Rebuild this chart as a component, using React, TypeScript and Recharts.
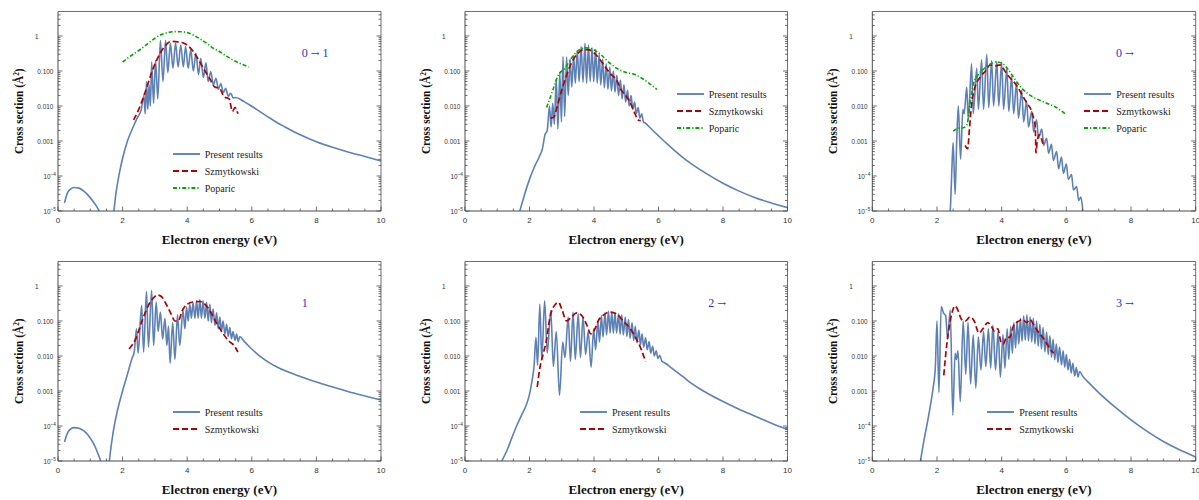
import React from 'react';
import { LineChart, Line, XAxis, YAxis, Legend } from 'recharts';

type Pt = [number, number];

// ---- data: [energy (eV), cross section (Å²)] ----

const present1: Pt[] = [
  [0.2, 1.7e-5], [0.3, 3.4e-5], [0.4, 4.3e-5], [0.5, 4.7e-5], [0.65, 4.5e-5], [0.8, 3.7e-5], [0.95, 2.7e-5],
  [1.1, 1.8e-5], [1.25, 1.1e-5], [1.33, 7e-6], [1.42, 2e-6], [1.5, 5e-7], [1.62, 8e-7], [1.68, 4e-6],
  [1.73, 1e-5], [1.8, 3.5e-5], [1.9, 1.2e-4], [2.0, 3.2e-4], [2.15, 1e-3], [2.3, 2.2e-3], [2.45, 4.5e-3],
  [2.58, 8e-3], [2.66, 0.02], [2.7, 0.006], [2.74, 0.05], [2.78, 0.008], [2.82, 0.04], [2.86, 0.01],
  [2.9, 0.18], [2.96, 0.012], [3.02, 0.2], [3.09, 0.016], [3.17, 0.74], [3.25, 0.05], [3.33, 0.74],
  [3.4, 0.09], [3.48, 0.62], [3.56, 0.12], [3.64, 0.62], [3.72, 0.13], [3.8, 0.55], [3.88, 0.13],
  [3.95, 0.5], [4.03, 0.12], [4.11, 0.4], [4.19, 0.1], [4.27, 0.32], [4.35, 0.08], [4.42, 0.23],
  [4.5, 0.065], [4.58, 0.17], [4.65, 0.05], [4.73, 0.095], [4.81, 0.04], [4.89, 0.062], [4.97, 0.03],
  [5.04, 0.044], [5.12, 0.024], [5.19, 0.032], [5.27, 0.019], [5.35, 0.023], [5.42, 0.017],
  [5.5, 0.0175], [5.75, 0.0135], [6.0, 0.0098], [6.25, 0.0069], [6.5, 0.0049], [6.75, 0.0035],
  [7.0, 0.0026], [7.5, 0.0015], [8.0, 9.5e-4], [8.5, 6.6e-4], [9.0, 4.8e-4], [9.5, 3.6e-4], [10.0, 2.7e-4],
];
const szmyt1: Pt[] = [
  [2.34, 0.004], [2.5, 0.008], [2.7, 0.025], [2.9, 0.09], [3.1, 0.25], [3.3, 0.5], [3.5, 0.7], [3.7, 0.68],
  [3.9, 0.62], [4.1, 0.45], [4.3, 0.25], [4.5, 0.12], [4.7, 0.06], [4.85, 0.035], [5.0, 0.032],
  [5.15, 0.018], [5.3, 0.016], [5.4, 0.007], [5.48, 0.009], [5.57, 0.006],
];
const poparic1: Pt[] = [
  [2.0, 0.18], [2.2, 0.25], [2.4, 0.33], [2.6, 0.45], [2.8, 0.62], [3.0, 0.86], [3.2, 1.1], [3.4, 1.25],
  [3.6, 1.33], [3.8, 1.32], [4.0, 1.25], [4.2, 1.05], [4.4, 0.82], [4.6, 0.62], [4.8, 0.45], [5.0, 0.36],
  [5.2, 0.27], [5.4, 0.21], [5.6, 0.17], [5.9, 0.13],
];

const present2: Pt[] = [
  [1.7, 1e-5], [1.85, 3e-5], [2.0, 8e-5], [2.15, 1.8e-4], [2.3, 3.5e-4], [2.4, 6e-4], [2.48, 0.0015],
  [2.55, 0.002], [2.62, 0.01], [2.67, 0.0025], [2.72, 0.012], [2.77, 0.003], [2.83, 0.06], [2.88, 0.0022],
  [2.94, 0.09], [2.99, 0.0035], [3.04, 0.26], [3.09, 0.005], [3.15, 0.25], [3.2, 0.02], [3.26, 0.22],
  [3.31, 0.035], [3.37, 0.28], [3.42, 0.045], [3.48, 0.38], [3.54, 0.05], [3.6, 0.5], [3.66, 0.048],
  [3.72, 0.62], [3.77, 0.045], [3.83, 0.55], [3.88, 0.05], [3.94, 0.45], [3.99, 0.05], [4.05, 0.4],
  [4.1, 0.045], [4.16, 0.3], [4.21, 0.04], [4.27, 0.22], [4.32, 0.033], [4.38, 0.16], [4.43, 0.03],
  [4.49, 0.13], [4.54, 0.027], [4.6, 0.1], [4.65, 0.025], [4.71, 0.075], [4.76, 0.02], [4.82, 0.055],
  [4.87, 0.016], [4.93, 0.04], [4.98, 0.013], [5.04, 0.028], [5.09, 0.01], [5.15, 0.02], [5.2, 0.008],
  [5.26, 0.013], [5.31, 0.006], [5.37, 0.009], [5.42, 0.0045], [5.48, 0.006], [5.53, 0.0035],
  [5.6, 0.0032], [5.7, 0.0026], [5.85, 0.0019], [6.0, 0.0014], [6.25, 8.5e-4], [6.5, 5.3e-4],
  [6.75, 3.4e-4], [7.0, 2.3e-4], [7.5, 1.15e-4], [8.0, 6.2e-5], [8.5, 3.7e-5], [9.0, 2.4e-5],
  [9.5, 1.7e-5], [10.0, 1.25e-5],
];
const szmyt2: Pt[] = [
  [2.65, 0.0045], [2.75, 0.0048], [2.85, 0.009], [2.95, 0.02], [3.1, 0.055], [3.3, 0.17], [3.5, 0.32],
  [3.7, 0.41], [3.85, 0.4], [4.05, 0.3], [4.3, 0.15], [4.5, 0.085], [4.7, 0.055], [4.85, 0.028],
  [5.0, 0.019], [5.15, 0.011], [5.27, 0.006], [5.37, 0.004], [5.45, 0.0038],
];
const poparic2: Pt[] = [
  [2.53, 0.009], [2.69, 0.023], [2.89, 0.075], [3.1, 0.12], [3.31, 0.24], [3.51, 0.38], [3.72, 0.46],
  [3.95, 0.42], [4.2, 0.3], [4.45, 0.18], [4.7, 0.12], [5.0, 0.09], [5.25, 0.08], [5.45, 0.065],
  [5.7, 0.045], [5.95, 0.03],
];

const present3: Pt[] = [
  [2.38, 5e-6], [2.42, 1.5e-5], [2.46, 1.5e-4], [2.5, 9e-4], [2.56, 3e-5], [2.61, 0.001], [2.66, 0.01],
  [2.73, 3e-4], [2.8, 0.008], [2.84, 0.006], [2.92, 0.035], [2.97, 0.004], [3.07, 0.16], [3.12, 0.006],
  [3.23, 0.12], [3.28, 0.008], [3.38, 0.21], [3.44, 0.008], [3.54, 0.3], [3.6, 0.009], [3.69, 0.2],
  [3.75, 0.01], [3.85, 0.19], [3.91, 0.01], [4.0, 0.18], [4.06, 0.008], [4.16, 0.12], [4.22, 0.007],
  [4.31, 0.07], [4.37, 0.006], [4.46, 0.045], [4.52, 0.0045], [4.62, 0.028], [4.68, 0.0035],
  [4.77, 0.014], [4.83, 0.0025], [4.93, 0.007], [4.99, 0.0018], [5.08, 0.004], [5.14, 0.0012],
  [5.24, 0.0022], [5.3, 7.5e-4], [5.39, 0.0012], [5.45, 4.5e-4], [5.54, 8e-4], [5.6, 2.8e-4],
  [5.7, 5e-4], [5.76, 1.6e-4], [5.85, 3.5e-4], [5.91, 1.2e-4], [6.0, 2.2e-4], [6.06, 8e-5],
  [6.16, 1.1e-4], [6.22, 4e-5], [6.32, 5e-5], [6.38, 2e-5], [6.45, 2.5e-5], [6.52, 8e-6], [6.6, 1e-6],
];
const szmyt3: Pt[] = [
  [2.87, 7.5e-4], [2.95, 6e-4], [3.0, 0.002], [3.07, 0.011], [3.17, 0.033], [3.33, 0.065], [3.5, 0.1],
  [3.65, 0.15], [3.8, 0.14], [3.95, 0.15], [4.1, 0.1], [4.25, 0.065], [4.45, 0.04], [4.62, 0.022],
  [4.78, 0.012], [4.93, 0.007], [5.0, 0.004], [5.04, 0.0025], [5.06, 4.6e-4], [5.1, 0.001],
  [5.16, 0.0015], [5.29, 7.5e-4],
];
const poparic3: Pt[] = [
  [2.5, 0.0019], [2.65, 0.0023], [2.81, 0.0024], [2.92, 0.0028], [3.02, 0.011], [3.12, 0.04],
  [3.28, 0.08], [3.43, 0.11], [3.64, 0.155], [3.79, 0.18], [4.0, 0.17], [4.2, 0.11], [4.4, 0.06],
  [4.6, 0.034], [4.82, 0.022], [5.08, 0.016], [5.39, 0.012], [5.65, 0.0095], [5.96, 0.006],
];

const present4: Pt[] = [
  [0.2, 3.5e-5], [0.3, 6.5e-5], [0.4, 8.3e-5], [0.5, 9e-5], [0.65, 8.6e-5], [0.8, 7.2e-5], [0.95, 5.2e-5],
  [1.1, 3.2e-5], [1.25, 1.5e-5], [1.33, 9e-6], [1.42, 2e-6], [1.5, 2e-6], [1.56, 5e-6], [1.6, 1.2e-5],
  [1.7, 6e-5], [1.85, 3e-4], [2.0, 1e-3], [2.15, 0.003], [2.3, 0.009], [2.36, 0.013], [2.43, 0.06],
  [2.48, 0.012], [2.59, 0.28], [2.65, 0.013], [2.74, 0.7], [2.8, 0.018], [2.9, 0.75], [2.96, 0.02],
  [3.04, 0.35], [3.1, 0.05], [3.17, 0.18], [3.24, 0.03], [3.31, 0.12], [3.37, 0.02], [3.42, 0.07],
  [3.47, 0.0062], [3.55, 0.09], [3.62, 0.008], [3.7, 0.15], [3.77, 0.02], [3.87, 0.2], [3.93, 0.06],
  [3.98, 0.25], [4.03, 0.1], [4.08, 0.3], [4.13, 0.12], [4.18, 0.33], [4.24, 0.12], [4.29, 0.38],
  [4.34, 0.12], [4.39, 0.4], [4.44, 0.12], [4.49, 0.38], [4.55, 0.12], [4.6, 0.34], [4.65, 0.1],
  [4.7, 0.3], [4.75, 0.09], [4.8, 0.22], [4.86, 0.075], [4.91, 0.17], [4.96, 0.06], [5.01, 0.13],
  [5.06, 0.05], [5.11, 0.1], [5.17, 0.042], [5.22, 0.08], [5.27, 0.036], [5.32, 0.065], [5.37, 0.031],
  [5.42, 0.05], [5.48, 0.028], [5.53, 0.042], [5.58, 0.026], [5.63, 0.036], [5.75, 0.027],
  [5.9, 0.0195], [6.0, 0.0158], [6.25, 0.0099], [6.5, 0.0068], [6.75, 0.005], [7.0, 0.0039],
  [7.5, 0.0026], [8.0, 0.0018], [8.5, 0.0013], [9.0, 9.5e-4], [9.5, 7.2e-4], [10.0, 5.5e-4],
];
const szmyt4: Pt[] = [
  [2.2, 0.016], [2.4, 0.03], [2.6, 0.1], [2.8, 0.28], [2.95, 0.45], [3.08, 0.55], [3.2, 0.5], [3.35, 0.3],
  [3.5, 0.16], [3.62, 0.1], [3.72, 0.1], [3.85, 0.2], [4.0, 0.3], [4.2, 0.35], [4.4, 0.36], [4.55, 0.3],
  [4.7, 0.2], [4.9, 0.09], [5.1, 0.045], [5.3, 0.026], [5.45, 0.02], [5.57, 0.013],
];

const present5: Pt[] = [
  [1.14, 1e-5], [1.3, 2e-5], [1.45, 4.5e-5], [1.6, 1e-4], [1.75, 2e-4], [1.9, 4e-4], [2.0, 8e-4],
  [2.08, 0.002], [2.14, 0.005], [2.2, 0.034], [2.25, 0.0055], [2.32, 0.3], [2.38, 0.008], [2.47, 0.38],
  [2.55, 0.012], [2.66, 0.2], [2.74, 0.005], [2.83, 0.05], [2.93, 7.5e-4], [3.03, 0.025], [3.1, 0.009],
  [3.2, 0.13], [3.27, 0.007], [3.35, 0.18], [3.42, 0.008], [3.51, 0.16], [3.58, 0.009], [3.66, 0.13],
  [3.74, 0.011], [3.82, 0.05], [3.91, 0.0048], [3.99, 0.06], [4.05, 0.015], [4.12, 0.1], [4.17, 0.025],
  [4.23, 0.14], [4.28, 0.035], [4.34, 0.17], [4.39, 0.04], [4.45, 0.19], [4.5, 0.045], [4.55, 0.18],
  [4.6, 0.045], [4.65, 0.17], [4.7, 0.045], [4.76, 0.16], [4.81, 0.042], [4.86, 0.15], [4.91, 0.04],
  [4.97, 0.13], [5.02, 0.036], [5.07, 0.11], [5.12, 0.032], [5.18, 0.09], [5.23, 0.028], [5.28, 0.07],
  [5.33, 0.024], [5.39, 0.055], [5.44, 0.021], [5.49, 0.043], [5.54, 0.018], [5.6, 0.033], [5.65, 0.015],
  [5.71, 0.026], [5.76, 0.012], [5.82, 0.019], [5.87, 0.01], [5.93, 0.014], [5.98, 0.0085],
  [6.04, 0.0105], [6.1, 0.0072], [6.2, 0.0063], [6.35, 0.005], [6.5, 0.0039], [6.75, 0.0026],
  [7.0, 0.0017], [7.25, 0.0012], [7.5, 8.8e-4], [8.0, 5e-4], [8.5, 3e-4], [9.0, 1.9e-4], [9.5, 1.2e-4],
  [10.0, 8e-5],
];
const szmyt5: Pt[] = [
  [2.24, 0.0013], [2.32, 0.0045], [2.42, 0.011], [2.53, 0.03], [2.63, 0.12], [2.74, 0.25], [2.9, 0.34],
  [3.0, 0.22], [3.15, 0.1], [3.3, 0.13], [3.46, 0.17], [3.6, 0.15], [3.77, 0.08], [3.9, 0.043],
  [4.03, 0.06], [4.13, 0.1], [4.3, 0.15], [4.49, 0.18], [4.7, 0.16], [4.9, 0.1], [5.1, 0.065],
  [5.3, 0.032], [5.47, 0.015], [5.6, 0.0068],
];

const present6: Pt[] = [
  [1.49, 1e-5], [1.6, 4e-5], [1.7, 1.2e-4], [1.8, 4e-4], [1.88, 0.0012], [1.95, 0.005], [2.0, 0.1],
  [2.06, 9e-4], [2.13, 0.26], [2.2, 0.17], [2.27, 0.14], [2.33, 0.03], [2.41, 0.21], [2.49, 2e-4],
  [2.56, 0.012], [2.6, 0.008], [2.65, 0.014], [2.72, 5e-4], [2.81, 0.1], [2.89, 0.003], [2.96, 0.09],
  [3.04, 0.0016], [3.12, 0.04], [3.2, 0.0012], [3.28, 0.035], [3.36, 0.004], [3.44, 0.05], [3.51, 0.005],
  [3.59, 0.06], [3.66, 0.0045], [3.73, 0.075], [3.81, 0.004], [3.89, 0.05], [3.96, 0.0025], [4.04, 0.04],
  [4.1, 0.0045], [4.17, 0.06], [4.22, 0.008], [4.28, 0.07], [4.33, 0.012], [4.38, 0.09], [4.43, 0.017],
  [4.48, 0.1], [4.53, 0.022], [4.58, 0.12], [4.63, 0.026], [4.68, 0.14], [4.73, 0.028], [4.78, 0.15],
  [4.83, 0.027], [4.88, 0.13], [4.93, 0.025], [4.98, 0.12], [5.03, 0.022], [5.08, 0.1], [5.13, 0.019],
  [5.18, 0.08], [5.23, 0.016], [5.28, 0.065], [5.34, 0.013], [5.39, 0.048], [5.44, 0.011], [5.49, 0.038],
  [5.54, 0.0093], [5.59, 0.03], [5.64, 0.0078], [5.69, 0.022], [5.74, 0.0065], [5.79, 0.018],
  [5.85, 0.0055], [5.9, 0.014], [5.95, 0.0048], [6.0, 0.011], [6.05, 0.004], [6.1, 0.008],
  [6.15, 0.0033], [6.2, 0.0062], [6.26, 0.0027], [6.31, 0.0047], [6.36, 0.0025], [6.41, 0.0036],
  [6.5, 0.0027], [6.7, 0.0017], [7.0, 9e-4], [7.5, 3.5e-4], [8.0, 1.5e-4], [8.5, 7e-5], [9.0, 3.6e-5],
  [9.5, 2.1e-5], [10.0, 1.3e-5],
];
const szmyt6: Pt[] = [
  [2.21, 0.0028], [2.3, 0.02], [2.4, 0.09], [2.5, 0.22], [2.56, 0.27], [2.65, 0.2], [2.76, 0.11],
  [2.88, 0.1], [3.02, 0.13], [3.15, 0.1], [3.3, 0.045], [3.42, 0.06], [3.57, 0.09], [3.68, 0.07],
  [3.78, 0.05], [3.88, 0.06], [3.98, 0.025], [4.05, 0.022], [4.15, 0.034], [4.25, 0.034], [4.37, 0.075],
  [4.5, 0.095], [4.65, 0.11], [4.77, 0.09], [4.87, 0.11], [5.0, 0.075], [5.12, 0.05], [5.28, 0.033],
  [5.43, 0.02], [5.54, 0.014], [5.61, 0.012],
];

// ---- ticks ----
const xTicks = [0, 0.5, 1, 1.5, 2, 2.5, 3, 3.5, 4, 4.5, 5, 5.5, 6, 6.5, 7, 7.5, 8, 8.5, 9, 9.5, 10];
const xMajor = [0, 2, 4, 6, 8, 10];
const xMajorLabels = ['0', '2', '4', '6', '8', '10'];

const yMajor = [1e-5, 1e-4, 1e-3, 1e-2, 1e-1, 1];
const yMajorText = ['10', '10', '0.001', '0.010', '0.100', '1'];
const yMajorSup = ['\u22125', '\u22124', '', '', '', ''];
const yMinorMult = [2, 3, 4, 5, 6, 7, 8, 9];
const yTicks = [...yMajor, ...yMajor.flatMap((m) => yMinorMult.map((k) => k * m)).filter((v) => v < 5)];

const SERIF = '"Liberation Serif", "Times New Roman", serif';
const SANS = '"Liberation Sans", Arial, sans-serif';
const FRAME = '#4a4a4a';
const H = 250;
const PLOT_TOP = 11.5;
const PLOT_BOTTOM = 211;

const PRESENT = { name: 'Present results', color: '#5E81B5', dash: undefined as string | undefined, width: 1.6 };
const SZMYT = { name: 'Szmytkowski', color: '#B00000', dash: '6 3', width: 1.7 };
const POPARIC = { name: 'Poparic', color: '#00A800', dash: '4 2 1.2 2', width: 1.6 };

const toRows = (pts: Pt[]) => pts.map(([x, y]) => ({ x, y }));

const makeTick = (side: 'bottom' | 'top' | 'left' | 'right') => (props: any) => {
  const { x, y, payload } = props;
  const v = payload.value as number;
  const vertical = side === 'left' || side === 'right';
  const yi = vertical ? yMajor.findIndex((m) => Math.abs(v / m - 1) < 1e-6) : -1;
  const xi = vertical ? -1 : xMajor.indexOf(v);
  const major = vertical ? yi >= 0 : xi >= 0;
  const len = major ? 4.5 : 2.5;
  const l = { x1: x, y1: y, x2: x, y2: y };
  if (side === 'bottom') l.y2 = y - len;
  if (side === 'top') l.y2 = y + len;
  if (side === 'left') l.x2 = x + len;
  if (side === 'right') l.x2 = x - len;

  let label: React.ReactNode = null;
  if (side === 'bottom' && major) {
    label = (
      <text x={x} y={y + 12} textAnchor="middle" fontSize={8} fontFamily={SANS} fill="#333">
        {xMajorLabels[xi]}
      </text>
    );
  }
  if (side === 'left' && major) {
    const sup = yMajorSup[yi];
    // "1" sits on the decimal column of the other labels
    const dx = yi === 5 ? 19.5 : sup ? 2 : 4.7;
    label = (
      <g transform={`translate(${x - dx},${y + 2.9}) scale(0.8,1)`}>
        <text x={0} y={0} textAnchor="end" fontSize={8} fontFamily={SANS} fill="#333">
          {yMajorText[yi]}
          {sup && (
            <tspan dy={-3.2} fontSize={6}>
              {sup}
            </tspan>
          )}
        </text>
      </g>
    );
  }
  return (
    <g>
      <line {...l} stroke={FRAME} strokeWidth={0.8} />
      {label}
    </g>
  );
};

const bottomTick = makeTick('bottom');
const topTick = makeTick('top');
const leftTick = makeTick('left');
const rightTick = makeTick('right');

interface PanelSpec {
  left: number;
  top: number;
  width: number;
  plotLeft: number;
  plotRight: number;
  present: Pt[];
  szmyt: Pt[];
  poparic?: Pt[];
  legendX: number;
  legendY: number;
  note?: string;
  noteX?: number;
}

const panels: PanelSpec[] = [
  { left: 0, top: 0, width: 400, plotLeft: 58, plotRight: 381, present: present1, szmyt: szmyt1, poparic: poparic1, legendX: 172.7, legendY: 154, note: '0 \u2192 1', noteX: 301.7 },
  { left: 400, top: 0, width: 400, plotLeft: 65, plotRight: 387.5, present: present2, szmyt: szmyt2, poparic: poparic2, legendX: 276.7, legendY: 94 },
  { left: 800, top: 0, width: 399, plotLeft: 72.3, plotRight: 395.7, present: present3, szmyt: szmyt3, poparic: poparic3, legendX: 284.3, legendY: 94, note: '0 \u2192', noteX: 316 },
  { left: 0, top: 250, width: 400, plotLeft: 58, plotRight: 381, present: present4, szmyt: szmyt4, legendX: 172.7, legendY: 162.3, note: '1', noteX: 301.7 },
  { left: 400, top: 250, width: 400, plotLeft: 65, plotRight: 387.5, present: present5, szmyt: szmyt5, legendX: 180, legendY: 162.3, note: '2 \u2192', noteX: 308.3 },
  { left: 800, top: 250, width: 399, plotLeft: 72.3, plotRight: 395.7, present: present6, szmyt: szmyt6, legendX: 187.3, legendY: 162.3, note: '3 \u2192', noteX: 316 },
];

const LegendBox = ({ items }: { items: typeof PRESENT[] }) => (
  <div style={{ fontFamily: SERIF, fontSize: 10, color: '#222' }}>
    {items.map((it) => (
      <div key={it.name} style={{ display: 'flex', alignItems: 'center', height: 17, whiteSpace: 'nowrap' }}>
        <svg width={27} height={6} style={{ display: 'block' }}>
          <line x1={0} y1={3} x2={27} y2={3} stroke={it.color} strokeWidth={it.width + 0.3} strokeDasharray={it.dash} />
        </svg>
        <span style={{ marginLeft: 5 }}>{it.name}</span>
      </div>
    ))}
  </div>
);

// arrows look too small in Liberation Serif, so draw them with DejaVu
const NoteText = ({ text }: { text: string }) => {
  const parts = text.split('\u2192');
  return (
    <>
      {parts.map((p, i) => (
        <React.Fragment key={i}>
          {i > 0 && <span style={{ fontFamily: '"DejaVu Serif", serif', fontSize: 10.5 }}>{'\u2192'}</span>}
          {p}
        </React.Fragment>
      ))}
    </>
  );
};

function Panel({ spec }: { spec: PanelSpec }) {
  const { width, plotLeft, plotRight } = spec;
  const items = spec.poparic ? [PRESENT, SZMYT, POPARIC] : [PRESENT, SZMYT];
  const plotMid = (PLOT_TOP + PLOT_BOTTOM) / 2;

  const xTitle = () => (
    <text x={(plotLeft + plotRight) / 2} y={PLOT_BOTTOM + 32.8} textAnchor="middle" fontFamily={SERIF} fontWeight="bold" fontSize={13} fill="#111">
      Electron energy (eV)
    </text>
  );
  const yTitle = () => (
    <g transform={`translate(${plotLeft - 35},${plotMid}) rotate(-90) scale(0.87,1)`}>
      <text x={0} y={0} textAnchor="middle" fontFamily={SERIF} fontWeight="bold" fontSize={13} fill="#111">
        Cross section (Å
        <tspan dy={-4.5} fontSize={8.5}>2</tspan>
        <tspan dy={4.5}>)</tspan>
      </text>
    </g>
  );

  return (
    <div style={{ position: 'absolute', left: spec.left, top: spec.top, width, height: H }}>
      <LineChart
        width={width}
        height={H}
        margin={{ top: PLOT_TOP - 1, right: width - plotRight - 1, left: 0, bottom: 0 }}
      >
        <XAxis
          xAxisId="b"
          type="number"
          dataKey="x"
          domain={[0, 10]}
          allowDataOverflow
          ticks={xTicks}
          interval={0}
          height={H - PLOT_BOTTOM}
          tickSize={0}
          tickMargin={0}
          tickLine={false}
          tick={bottomTick}
          axisLine={{ stroke: FRAME, strokeWidth: 1 }}
          label={{ content: xTitle }}
        />
        <XAxis
          xAxisId="t"
          orientation="top"
          type="number"
          domain={[0, 10]}
          allowDataOverflow
          ticks={xTicks}
          interval={0}
          height={1}
          tickSize={0}
          tickMargin={0}
          tickLine={false}
          tick={topTick}
          axisLine={{ stroke: FRAME, strokeWidth: 0.8 }}
        />
        <YAxis
          yAxisId="l"
          scale="log"
          type="number"
          domain={[1e-5, 5]}
          allowDataOverflow
          ticks={yTicks}
          interval={0}
          width={plotLeft}
          tickSize={0}
          tickMargin={0}
          tickLine={false}
          tick={leftTick}
          axisLine={{ stroke: FRAME, strokeWidth: 1 }}
          label={{ content: yTitle }}
        />
        <YAxis
          yAxisId="r"
          orientation="right"
          scale="log"
          type="number"
          domain={[1e-5, 5]}
          allowDataOverflow
          ticks={yTicks}
          interval={0}
          width={1}
          tickSize={0}
          tickMargin={0}
          tickLine={false}
          tick={rightTick}
          axisLine={{ stroke: FRAME, strokeWidth: 0.8 }}
        />
        <Line
          xAxisId="b"
          yAxisId="l"
          data={toRows(spec.present)}
          dataKey="y"
          name={PRESENT.name}
          type="monotone"
          stroke={PRESENT.color}
          strokeWidth={PRESENT.width}
          dot={false}
          activeDot={false}
          isAnimationActive={false}
        />
        <Line
          xAxisId="b"
          yAxisId="l"
          data={toRows(spec.szmyt)}
          dataKey="y"
          name={SZMYT.name}
          type="monotone"
          stroke={SZMYT.color}
          strokeWidth={SZMYT.width}
          strokeDasharray={SZMYT.dash}
          dot={false}
          activeDot={false}
          isAnimationActive={false}
        />
        {spec.poparic && (
          <Line
            xAxisId="b"
            yAxisId="l"
            data={toRows(spec.poparic)}
            dataKey="y"
            name={POPARIC.name}
            type="monotone"
            stroke={POPARIC.color}
            strokeWidth={POPARIC.width}
            strokeDasharray={POPARIC.dash}
            dot={false}
            activeDot={false}
            isAnimationActive={false}
          />
        )}
        <Legend
          layout="vertical"
          align="center"
          verticalAlign="middle"
          wrapperStyle={{ left: spec.legendX, top: spec.legendY - 8.5, width: 130, height: items.length * 17 }}
          content={() => <LegendBox items={items} />}
        />
      </LineChart>
      {spec.note && (
        <div
          style={{
            position: 'absolute',
            left: spec.noteX,
            top: 53.3 - 8,
            fontFamily: SERIF,
            fontSize: 12,
            lineHeight: '16px',
            color: '#3030cc',
            whiteSpace: 'pre',
          }}
        >
          <NoteText text={spec.note} />
        </div>
      )}
    </div>
  );
}

export default function App() {
  return (
    <div style={{ position: 'absolute', left: 0, top: 0, width: 1199, height: 500, background: '#fff', overflow: 'hidden' }}>
      {panels.map((p, i) => (
        <Panel key={i} spec={p} />
      ))}
    </div>
  );
}
